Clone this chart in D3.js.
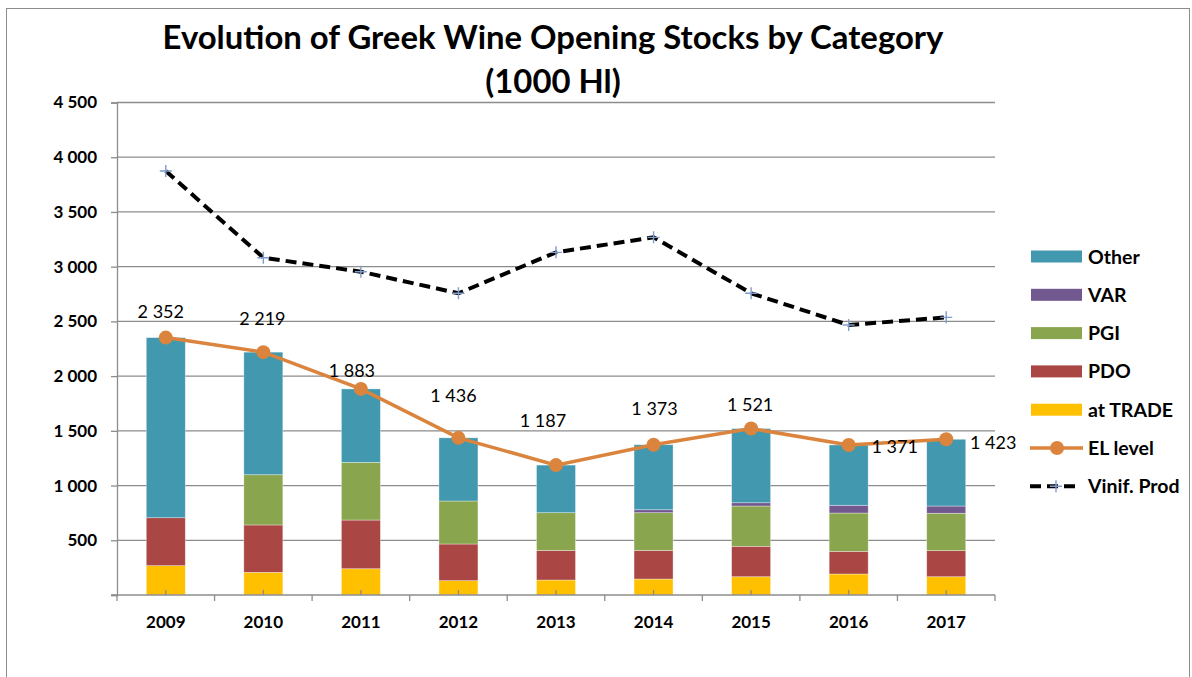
<!DOCTYPE html>
<html>
<head>
<meta charset="utf-8">
<script src="https://cdn.jsdelivr.net/npm/d3@7"></script>
<style>
  body { margin: 0; background: #fff; }
  svg { display: block; font-family: Lato, "Open Sans", sans-serif; }
</style>
</head>
<body>
<svg id="chart" width="1192" height="677"></svg>
<script>
// data, 1000 hl
const years = ["2009", "2010", "2011", "2012", "2013", "2014", "2015", "2016", "2017"];
const atTrade = [268, 207, 240, 131, 137, 146, 167, 192, 167];
const pdo     = [438, 433, 445, 335, 271, 262, 278, 207, 238];
const pgi     = [0, 459, 527, 393, 344, 344, 368, 350, 342];
const varCat  = [0, 0, 0, 0, 0, 27, 30, 71, 66];
const other   = [1646, 1120, 671, 577, 435, 594, 678, 551, 610];
const elLevel = [2352, 2219, 1883, 1436, 1187, 1373, 1521, 1371, 1423];
const vinifProd = [3874, 3082, 2954, 2757, 3131, 3268, 2757, 2467, 2537];
const yTicks = [500, 1000, 1500, 2000, 2500, 3000, 3500, 4000, 4500];

// where each EL label sits relative to its point (hand placed in the original)
const labelOffsets = [[-5, -26], [-1, -33], [-9, -18], [-5, -42], [-13, -44], [1, -36], [-1, -24], [46, 2], [47, 3]];

const fmt = v => d3.format(",")(v).replace(/,/g, " ");

const svg = d3.select("#chart");

// chart border
svg.append("rect")
  .attr("x", 6.5).attr("y", 8.5)
  .attr("width", 1183).attr("height", 720)
  .attr("fill", "#fff").attr("stroke", "#8c8c8c").attr("stroke-width", 1);

const plotLeft = 117, plotRight = 995, plotTop = 102.5, plotBottom = 595;

const x = d3.scaleBand().domain(years).range([plotLeft, plotRight]).padding(0);
const y = d3.scaleLinear().domain([0, 4500]).range([plotBottom, plotTop]);
const barW = 39;

// gridlines
svg.append("g").selectAll("line")
  .data(yTicks).join("line")
  .attr("x1", plotLeft).attr("x2", plotRight)
  .attr("y1", d => y(d)).attr("y2", d => y(d))
  .attr("stroke", "#8c8c8c").attr("stroke-width", 1.3);

// y axis
const yAxis = svg.append("g")
  .attr("transform", "translate(" + plotLeft + ",0)")
  .call(d3.axisLeft(y).tickValues([0].concat(yTicks)).tickSize(6).tickPadding(14).tickFormat(d => d === 0 ? "" : fmt(d)));
yAxis.select(".domain").attr("stroke", "#8c8c8c").attr("stroke-width", 1.3);
yAxis.selectAll(".tick line").attr("stroke", "#8c8c8c").attr("stroke-width", 1.3);
yAxis.selectAll(".tick text")
  .attr("fill", "#000").attr("font-family", "Lato").attr("font-weight", "bold").attr("font-size", 17);

// stacked bars
const series = [
  { name: "at TRADE", values: atTrade, color: "#FFC000" },
  { name: "PDO", values: pdo, color: "#AA4643" },
  { name: "PGI", values: pgi, color: "#89A54E" },
  { name: "VAR", values: varCat, color: "#71588F" },
  { name: "Other", values: other, color: "#4298AF" }
];

const rows = years.map((yr, i) => {
  const r = { year: yr };
  series.forEach(s => { r[s.name] = s.values[i]; });
  return r;
});
const stacked = d3.stack().keys(series.map(s => s.name))(rows);

svg.append("g").selectAll("g")
  .data(stacked).join("g")
  .attr("fill", (d, i) => series[i].color)
  .selectAll("rect")
  .data(d => d).join("rect")
  .attr("x", d => x(d.data.year) + x.bandwidth() / 2 - barW / 2)
  .attr("width", barW)
  .attr("y", d => y(d[1]))
  .attr("height", d => y(d[0]) - y(d[1]))
  .attr("stroke", "#ffffff").attr("stroke-opacity", 0.5).attr("stroke-width", 0.7);

// x axis
const xAxis = svg.append("g")
  .attr("transform", "translate(0," + plotBottom + ")");
xAxis.append("line")
  .attr("x1", plotLeft - 6).attr("x2", plotRight)
  .attr("stroke", "#8c8c8c").attr("stroke-width", 1.3);
xAxis.selectAll("line.bound")
  .data(d3.range(years.length + 1)).join("line")
  .attr("class", "bound")
  .attr("x1", i => plotLeft + i * x.bandwidth()).attr("x2", i => plotLeft + i * x.bandwidth())
  .attr("y1", 0).attr("y2", 6)
  .attr("stroke", "#8c8c8c").attr("stroke-width", 1.3);
xAxis.selectAll("line.mid")
  .data(years).join("line")
  .attr("class", "mid")
  .attr("x1", d => x(d) + x.bandwidth() / 2).attr("x2", d => x(d) + x.bandwidth() / 2)
  .attr("y1", -5).attr("y2", 0)
  .attr("stroke", "#8c8c8c").attr("stroke-width", 1.3);
xAxis.selectAll("text")
  .data(years).join("text")
  .attr("x", d => x(d) + x.bandwidth() / 2)
  .attr("y", 33)
  .attr("text-anchor", "middle")
  .attr("font-weight", "bold").attr("font-size", 17)
  .text(d => d);

const cx = (d, i) => x(years[i]) + x.bandwidth() / 2;

// vinification production, dashed
const vinifLine = d3.line().x(cx).y(d => y(d));
svg.append("path")
  .attr("d", vinifLine(vinifProd))
  .attr("fill", "none").attr("stroke", "#000")
  .attr("stroke-width", 4).attr("stroke-dasharray", "11,6");

function plusMarker(g, px, py) {
  g.append("path")
    .attr("d", "M" + (px - 6) + "," + py + "H" + (px + 6) + "M" + px + "," + (py - 6) + "V" + (py + 6))
    .attr("stroke", "#7F9CCB").attr("stroke-width", 1.4).attr("fill", "none");
}
const vinifMarks = svg.append("g");
vinifProd.forEach((d, i) => plusMarker(vinifMarks, cx(d, i), y(d)));

// EL level line
const elLine = d3.line().x(cx).y(d => y(d));
svg.append("path")
  .attr("d", elLine(elLevel))
  .attr("fill", "none").attr("stroke", "#DB843D").attr("stroke-width", 3.5);
svg.append("g").selectAll("circle")
  .data(elLevel).join("circle")
  .attr("cx", cx).attr("cy", d => y(d))
  .attr("r", 7).attr("fill", "#DB843D");

// EL level labels
svg.append("g").selectAll("text")
  .data(elLevel).join("text")
  .attr("x", (d, i) => cx(d, i) + labelOffsets[i][0])
  .attr("y", (d, i) => y(d) + labelOffsets[i][1])
  .attr("dy", "0.35em")
  .attr("text-anchor", "middle")
  .attr("font-size", 18).attr("fill", "#000")
  .text(d => fmt(d));

// legend
const legendItems = [
  { name: "Other", type: "rect", color: "#4298AF" },
  { name: "VAR", type: "rect", color: "#71588F" },
  { name: "PGI", type: "rect", color: "#89A54E" },
  { name: "PDO", type: "rect", color: "#AA4643" },
  { name: "at TRADE", type: "rect", color: "#FFC000" },
  { name: "EL level", type: "circle", color: "#DB843D" },
  { name: "Vinif. Prod", type: "dash", color: "#000" }
];
const legend = svg.append("g");
legendItems.forEach((it, i) => {
  const ly = 256.5 + i * 38.3;
  const g = legend.append("g");
  if (it.type === "rect") {
    g.append("rect").attr("x", 1031).attr("y", ly - 6).attr("width", 51).attr("height", 12).attr("fill", it.color);
  } else if (it.type === "circle") {
    g.append("line").attr("x1", 1030).attr("x2", 1083).attr("y1", ly).attr("y2", ly)
      .attr("stroke", it.color).attr("stroke-width", 3.5);
    g.append("circle").attr("cx", 1057).attr("cy", ly).attr("r", 7).attr("fill", it.color);
  } else {
    g.append("line").attr("x1", 1030).attr("x2", 1077).attr("y1", ly).attr("y2", ly)
      .attr("stroke", "#000").attr("stroke-width", 4).attr("stroke-dasharray", "11,6");
    plusMarker(g, 1056, ly);
  }
  g.append("text")
    .attr("x", 1088).attr("y", ly).attr("dy", "0.36em")
    .attr("font-weight", "bold").attr("font-size", 19.5).attr("fill", "#000")
    .text(it.name);
});

// title
const title = svg.append("g").attr("font-weight", "bold").attr("fill", "#000");
const t1 = title.append("text").attr("x", 553).attr("y", 48.5).attr("text-anchor", "middle")
  .attr("font-size", 31).text("Evolution of Greek Wine Opening Stocks by Category");
const fs = 31 * 781 / t1.node().getComputedTextLength();
t1.attr("font-size", fs);
title.append("text").attr("x", 553).attr("y", 93).attr("text-anchor", "middle")
  .attr("font-size", fs).text("(1000 Hl)");
</script>
</body>
</html>
